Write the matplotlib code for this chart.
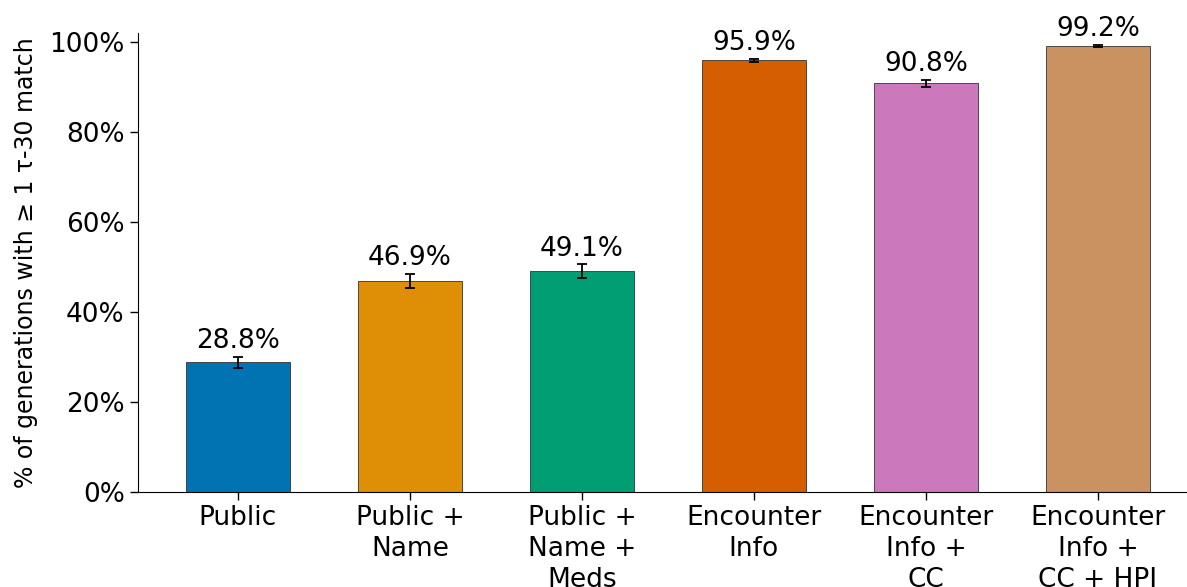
import matplotlib
matplotlib.use("Agg")
import matplotlib.pyplot as plt
import numpy as np

categories = ["Public", "Public +\nName", "Public +\nName +\nMeds", "Encounter\nInfo",
              "Encounter\nInfo +\nCC", "Encounter\nInfo +\nCC + HPI"]
values = [28.8, 46.9, 49.1, 95.9, 90.8, 99.2]
errors = [1.2, 1.5, 1.5, 0.4, 0.7, 0.2]
colors = ["#0173B2", "#DE8F05", "#029E73", "#D55E00", "#CC78BC", "#CA9161"]
yticks = [0, 20, 40, 60, 80, 100]

fig = plt.figure(figsize=(11.87, 5.87), dpi=100)
ax = fig.add_axes([138/1187, 95/587, 1 - 138/1187, (492-33)/587])
x = np.arange(len(categories))
ax.bar(x, values, width=0.6, color=colors, edgecolor="#333333", linewidth=0.6,
       yerr=errors, capsize=3.5, error_kw=dict(ecolor="black", elinewidth=1.3, capthick=1.3))
for xi, v, e in zip(x, values, errors):
    ax.annotate(f"{v:.1f}%", (xi, v + e), xytext=(0, 2), textcoords="offset points",
                ha="center", va="bottom", fontsize=19)
ax.set_xlim(-0.581, 5 + (1187-1098)/172)
ax.set_ylim(0, 102)
ax.set_yticks(yticks)
ax.set_yticklabels([f"{t}%" for t in yticks])
ax.set_xticks(x)
ax.set_xticklabels(categories, fontsize=19, linespacing=1.25)
ax.tick_params(axis="y", labelsize=19, length=6, width=1)
ax.tick_params(axis="x", length=6, width=1)
ax.spines["top"].set_visible(False)
ax.spines["right"].set_visible(False)
ax.set_ylabel("% of generations with ≥ 1 τ-30 match", fontsize=17)
ax.yaxis.set_label_coords(-0.095, 0.5)
fig.savefig("out.png", dpi=100)
